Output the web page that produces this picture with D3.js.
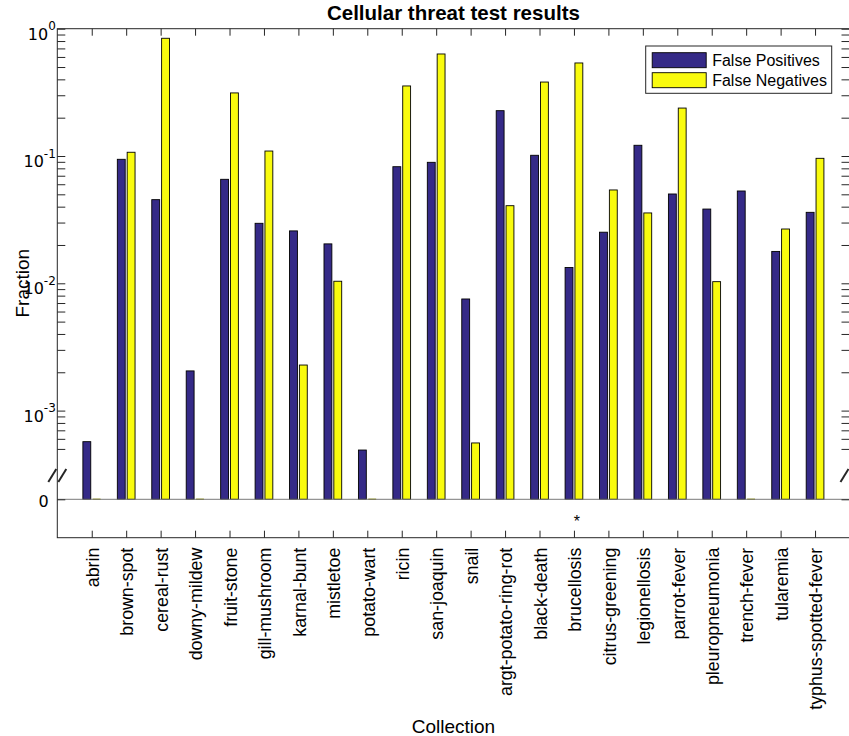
<!DOCTYPE html>
<html>
<head>
<meta charset="utf-8">
<script src="https://cdn.jsdelivr.net/npm/d3@7"></script>
<style>
  html, body { margin: 0; padding: 0; background: #fff; }
  svg { display: block; font-family: "Liberation Sans", Arial, Helvetica, sans-serif; }
</style>
</head>
<body>
<svg id="chart" width="849" height="736"></svg>
<script>
// Collections tested and their error fractions (0 = no errors observed)
const categories = [
  "abrin", "brown-spot", "cereal-rust", "downy-mildew", "fruit-stone",
  "gill-mushroom", "karnal-bunt", "mistletoe", "potato-wart", "ricin",
  "san-joaquin", "snail", "argt-potato-ring-rot", "black-death", "brucellosis",
  "citrus-greening", "legionellosis", "parrot-fever", "pleuropneumonia",
  "trench-fever", "tularemia", "typhus-spotted-fever"
];
const falsePositives = [
  0.00057, 0.0942, 0.0454, 0.00205, 0.0656,
  0.0296, 0.0258, 0.0204, 0.00049, 0.0824,
  0.0892, 0.00753, 0.227, 0.1013, 0.0133,
  0.0252, 0.1214, 0.0503, 0.0383,
  0.0531, 0.0178, 0.0361
];
const falseNegatives = [
  0, 0.107, 0.841, 0, 0.313,
  0.1094, 0.00228, 0.01038, 0, 0.355,
  0.633, 0.000557, 0.0407, 0.381, 0.538,
  0.0541, 0.0357, 0.238, 0.0103,
  0, 0.0267, 0.0959
];
const seriesNames = ["False Positives", "False Negatives"];
const seriesColors = ["#352A87", "#F9FB0E"];
const notes = [{ category: "brucellosis", text: "*" }];

const svg = d3.select("#chart");
const frame = { left: 57.3, right: 849.5, top: 28.7, bottom: 537.7 };
const decadePx = 127.3;          // height of one decade on the log band
const logFloor = 4e-4;           // lowest value shown on the log band
const zeroY = 499.3;             // position of the separate zero level
const breakY = 475.5;            // axis break between log band and zero
const axisColor = "#262626";
const tickFont = "'DejaVu Sans', Verdana, sans-serif";
const labelFont = "'Liberation Sans', Arial, sans-serif";

const x = d3.scalePoint()
  .domain(categories)
  .range([frame.left, frame.right])
  .padding(1);
const step = x.step();

const yLog = d3.scaleLog()
  .domain([logFloor, 1])
  .range([frame.top + Math.log10(1 / logFloor) * decadePx, frame.top]);
const yZero = d3.scaleLinear().domain([0, 1]).range([zeroY, zeroY - 1]);
const yPos = v => (v > 0 ? yLog(v) : zeroY);

// grouped bar geometry (two series per group)
const groupWidth = Math.min(0.8, 2 / 3.5);
const barW = 0.8 * groupWidth / 2 * step;
const offsets = [-groupWidth / 4 * step, groupWidth / 4 * step];

const series = seriesNames.map((name, s) => ({
  name,
  color: seriesColors[s],
  offset: offsets[s],
  values: (s === 0 ? falsePositives : falseNegatives)
}));

// bars
const barLayer = svg.append("g");
series.forEach(sr => {
  const g = barLayer.append("g");
  const rows = categories.map((c, i) => ({ c, v: sr.values[i] }));
  g.selectAll("rect")
    .data(rows.filter(d => d.v > 0))
    .join("rect")
    .attr("x", d => x(d.c) + sr.offset - barW / 2)
    .attr("width", barW)
    .attr("y", d => yPos(d.v))
    .attr("height", d => zeroY - yPos(d.v))
    .attr("fill", sr.color)
    .attr("stroke", "#000")
    .attr("stroke-width", 0.9);
  // zero-valued bars collapse to a flat outline on the zero level
  g.selectAll("line")
    .data(rows.filter(d => d.v === 0))
    .join("line")
    .attr("x1", d => x(d.c) + sr.offset - barW / 2)
    .attr("x2", d => x(d.c) + sr.offset + barW / 2)
    .attr("y1", zeroY)
    .attr("y2", zeroY)
    .attr("stroke", d3.interpolateRgb(sr.color, "#000")(0.4))
    .attr("stroke-width", 1.4);
});

// baseline at zero
svg.append("line")
  .attr("x1", frame.left).attr("x2", frame.right)
  .attr("y1", zeroY).attr("y2", zeroY)
  .attr("stroke", "#7a7a7a").attr("stroke-width", 1);

// log tick values: majors plus minor 2..9 per decade, down to 5e-4
const logTicks = [];
for (let e = 0; e >= -4; e--) {
  for (let m = 1; m <= 9; m++) {
    const v = m * Math.pow(10, e);
    if (v <= 1 && v >= 5e-4 - 1e-12) logTicks.push(v);
  }
}
const isMajor = v => Math.abs(Math.log10(v) - Math.round(Math.log10(v))) < 1e-9;

function styleAxis(g) {
  g.select(".domain").remove();
  g.selectAll(".tick line").attr("stroke", axisColor).attr("stroke-width", 1);
  g.selectAll("text").attr("fill", "#000");
}

// left axis with 10^n labels
const leftAxis = svg.append("g")
  .attr("transform", `translate(${frame.left},0)`)
  .call(d3.axisLeft(yLog).tickValues(logTicks).tickSize(-8).tickSizeOuter(0)
    .tickPadding(1.5).tickFormat(d => (isMajor(d) ? "10" : "")))
  .call(styleAxis);
leftAxis.selectAll(".tick text")
  .attr("font-size", 16)
  .attr("font-family", tickFont)
  .attr("dy", "0.66em")
  .each(function (d) {
    if (!isMajor(d)) return;
    d3.select(this).append("tspan")
      .attr("dy", "-0.78em")
      .attr("font-size", 12)
      .text(Math.round(Math.log10(d)));
  });

// zero tick below the break
svg.append("g")
  .attr("transform", `translate(${frame.left},0)`)
  .call(d3.axisLeft(yZero).tickValues([0]).tickSize(-8).tickSizeOuter(0)
    .tickPadding(8.5).tickFormat(d3.format("d")))
  .call(styleAxis)
  .selectAll("text")
  .attr("font-size", 16)
  .attr("font-family", tickFont)
  .attr("dy", "0.45em");

// right axis (ticks only)
svg.append("g")
  .attr("transform", `translate(${frame.right},0)`)
  .call(d3.axisRight(yLog).tickValues(logTicks).tickSize(-8).tickSizeOuter(0)
    .tickFormat(""))
  .call(styleAxis);
svg.append("g")
  .attr("transform", `translate(${frame.right},0)`)
  .call(d3.axisRight(yZero).tickValues([0]).tickSize(-8).tickSizeOuter(0)
    .tickFormat(""))
  .call(styleAxis);

// top axis (ticks only)
svg.append("g")
  .attr("transform", `translate(0,${frame.top})`)
  .call(d3.axisTop(x).tickSize(-7).tickSizeOuter(0).tickFormat(""))
  .call(styleAxis);

// bottom axis with rotated category labels
const bottomAxis = svg.append("g")
  .attr("transform", `translate(0,${frame.bottom})`)
  .call(d3.axisBottom(x).tickSize(-7).tickSizeOuter(0))
  .call(styleAxis);
bottomAxis.selectAll(".tick text")
  .attr("font-size", 17.8)
  .attr("font-family", labelFont)
  .attr("transform", "rotate(-90)")
  .attr("text-anchor", "end")
  .attr("x", -10)
  .attr("y", 0)
  .attr("dy", "0.38em");

// axes frame
svg.append("rect")
  .attr("x", frame.left).attr("y", frame.top)
  .attr("width", frame.right - frame.left)
  .attr("height", frame.bottom - frame.top)
  .attr("fill", "none")
  .attr("stroke", axisColor)
  .attr("stroke-width", 1);

// axis break marks
[frame.left, frame.right].forEach(cx => {
  [-5, 5].forEach(o => {
    svg.append("line")
      .attr("x1", cx + o - 4).attr("y1", breakY + 6.5)
      .attr("x2", cx + o + 4).attr("y2", breakY - 6.5)
      .attr("stroke", axisColor)
      .attr("stroke-width", 2);
  });
});

// annotation marks under categories
svg.selectAll("text.note")
  .data(notes)
  .join("text")
  .attr("class", "note")
  .attr("x", d => x(d.category) + 3)
  .attr("y", zeroY + 28)
  .attr("text-anchor", "middle")
  .attr("font-size", 16)
  .text(d => d.text);

// legend
const lg = svg.append("g").attr("transform", "translate(645.7,46)");
lg.append("rect")
  .attr("width", 186).attr("height", 47.3)
  .attr("fill", "#fff").attr("stroke", axisColor).attr("stroke-width", 1);
series.forEach((sr, i) => {
  lg.append("rect")
    .attr("x", 6.5).attr("y", 6.7 + i * 20)
    .attr("width", 54).attr("height", 15)
    .attr("fill", sr.color).attr("stroke", "#000").attr("stroke-width", 0.9);
  lg.append("text")
    .attr("x", 66.5).attr("y", 14.2 + i * 20)
    .attr("dy", "0.36em")
    .attr("font-size", 16)
    .text(sr.name);
});

// titles
svg.append("text")
  .attr("x", (frame.left + frame.right) / 2).attr("y", 19.5)
  .attr("text-anchor", "middle")
  .attr("font-size", 20.5).attr("font-weight", "bold")
  .text("Cellular threat test results");

svg.append("text")
  .attr("x", (frame.left + frame.right) / 2).attr("y", 733)
  .attr("text-anchor", "middle")
  .attr("font-size", 19)
  .text("Collection");

svg.append("text")
  .attr("transform", `translate(29,${(frame.top + frame.bottom) / 2}) rotate(-90)`)
  .attr("text-anchor", "middle")
  .attr("font-size", 19)
  .text("Fraction");
</script>
</body>
</html>
